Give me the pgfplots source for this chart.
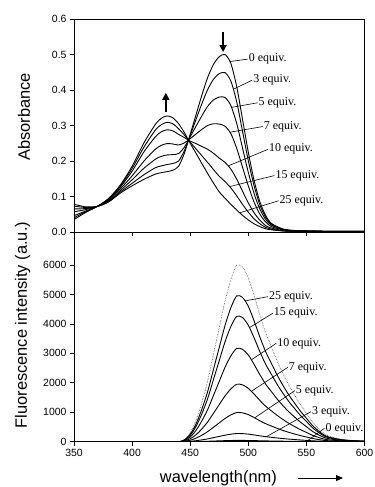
\documentclass[border=0pt]{standalone}
\usepackage{fontspec}
\setmainfont{Liberation Sans}
\newfontfamily\timesf{Liberation Serif}
\usepackage{pgfplots}
\pgfplotsset{compat=1.18}
\usepackage{pgfplotstable}
\usetikzlibrary{arrows.meta}

\pgfplotstableread{
nm e0 e3 e5 e7 e10 e15 e25
350 0.078 0.073 0.065 0.057 0.046 0.040 0.035
360 0.071 0.069 0.066 0.063 0.059 0.057 0.055
370 0.072 0.072 0.072 0.072 0.072 0.072 0.072
380 0.085 0.086 0.088 0.090 0.093 0.094 0.095
390 0.110 0.113 0.117 0.122 0.127 0.130 0.133
400 0.130 0.137 0.147 0.158 0.171 0.179 0.185
410 0.148 0.161 0.179 0.199 0.225 0.238 0.250
420 0.163 0.181 0.205 0.233 0.268 0.287 0.303
425 0.167 0.186 0.213 0.244 0.282 0.302 0.320
430 0.170 0.190 0.217 0.249 0.288 0.309 0.327
435 0.174 0.193 0.218 0.248 0.285 0.305 0.322
440 0.185 0.200 0.221 0.245 0.275 0.291 0.305
445 0.222 0.229 0.239 0.251 0.266 0.273 0.280
450 0.275 0.272 0.268 0.263 0.256 0.253 0.250
455 0.330 0.317 0.298 0.276 0.249 0.234 0.222
460 0.385 0.361 0.327 0.289 0.241 0.215 0.193
465 0.435 0.401 0.354 0.300 0.233 0.196 0.165
470 0.472 0.430 0.372 0.305 0.222 0.176 0.138
475 0.494 0.446 0.380 0.304 0.208 0.157 0.113
480 0.500 0.449 0.379 0.298 0.196 0.142 0.095
485 0.475 0.425 0.356 0.277 0.177 0.124 0.078
490 0.410 0.367 0.306 0.236 0.149 0.102 0.062
495 0.318 0.284 0.237 0.183 0.115 0.078 0.047
500 0.225 0.201 0.168 0.130 0.082 0.056 0.034
505 0.145 0.130 0.108 0.084 0.054 0.037 0.023
510 0.085 0.076 0.064 0.050 0.033 0.023 0.015
515 0.046 0.041 0.035 0.028 0.018 0.013 0.009
520 0.024 0.022 0.019 0.015 0.011 0.008 0.006
530 0.008 0.008 0.007 0.006 0.004 0.003 0.003
540 0.004 0.004 0.003 0.003 0.002 0.002 0.002
550 0.003 0.003 0.003 0.002 0.002 0.002 0.002
570 0.002 0.002 0.002 0.002 0.001 0.001 0.001
600 0.002 0.002 0.002 0.002 0.001 0.001 0.001
}\absdata

\pgfplotstableread{
nm d e25 e15 e10 e7 e5 e3 e0
350 0 0 0 0 0 0 0 0
400 0 0 0 0 0 0 0 0
430 0 0 0 0 0 0 0 0
440 0 0 0 0 0 0 0 0
445 73 60 52 38 24 12 3 1
450 303 250 215 160 99 50 14 2
455 726 600 516 384 236 120 34 5
460 1331 1100 946 704 433 220 62 10
465 2057 1700 1462 1088 670 340 95 15
470 2965 2450 2107 1568 965 490 137 22
475 3872 3200 2752 2048 1261 640 179 29
480 4780 3950 3397 2528 1556 790 221 36
485 5506 4550 3913 2912 1793 910 255 41
490 5990 4950 4257 3168 1950 990 277 45
495 5929 4900 4214 3136 1931 980 274 44
500 5566 4600 3956 2944 1812 920 258 41
505 4961 4100 3526 2624 1615 820 230 37
510 4296 3550 3053 2272 1399 710 199 32
515 3691 3050 2623 1952 1202 610 171 27
520 3207 2650 2279 1696 1044 530 148 24
525 2723 2250 1935 1440 887 450 126 20
530 2299 1900 1634 1216 749 380 106 17
535 1912 1580 1359 1011 623 316 88 14
540 1573 1300 1118 832 512 260 73 12
545 1246 1030 886 659 406 206 58 9
550 968 800 688 512 315 160 45 7
555 678 560 482 358 221 112 31 5
560 460 380 327 243 150 76 21 3
565 278 230 198 147 91 46 13 2
570 182 150 129 96 59 30 8 1
580 85 70 60 45 28 14 4 1
590 42 35 30 22 14 7 2 0
600 24 20 17 13 8 4 1 0
}\fludata

\tikzset{eqlab/.style={anchor=west, inner sep=0.8bp, font=\timesf\fontsize{12}{14}\selectfont}}
\pgfplotsset{
  cv/.style={black, no marks, line width=0.9bp, smooth, tension=0.45},
  spec/.style={
    scale only axis, width=290.5bp,
    xmin=350, xmax=600, xtick={350,400,...,600},
    tick align=outside, xtick pos=bottom, ytick pos=left,
    major tick length=4bp,
    tick style={black, line width=0.7bp},
    axis line style={line width=0.8bp},
    tick label style={font=\fontsize{10.5}{12}\selectfont},
    /pgf/number format/assume math mode=true,
    label style={font=\fontsize{16.5}{18}\selectfont},
    clip mode=individual,
  },
}

\begin{document}
\begin{tikzpicture}
\path[use as bounding box] (-74bp,-45.3bp) rectangle (301bp,441.7bp);

% Absorbance
\begin{axis}[spec, at={(0bp,209.7bp)}, anchor=south west, height=213bp,
  ymin=0, ymax=0.6, ytick={0,0.1,...,0.6},
  xticklabels={},
  yticklabel style={/pgf/number format/.cd, fixed, fixed zerofill, precision=1},
  ylabel={Absorbance},
  every axis y label/.append style={at={(axis description cs:-0.172,0.541)}, anchor=center},
]
\addplot[cv] table[x=nm,y=e0]{\absdata};
\addplot[cv] table[x=nm,y=e3]{\absdata};
\addplot[cv] table[x=nm,y=e5]{\absdata};
\addplot[cv] table[x=nm,y=e7]{\absdata};
\addplot[cv] table[x=nm,y=e10]{\absdata};
\addplot[cv] table[x=nm,y=e15]{\absdata};
\addplot[cv] table[x=nm,y=e25]{\absdata};
\draw[line width=0.6bp] (axis cs:484,0.480) -- (axis cs:499.5,0.487) node[eqlab]{0 equiv.};
\draw[line width=0.6bp] (axis cs:487,0.402) -- (axis cs:503.5,0.428) node[eqlab]{3 equiv.};
\draw[line width=0.6bp] (axis cs:485.5,0.351) -- (axis cs:508,0.364) node[eqlab]{5 equiv.};
\draw[line width=0.6bp] (axis cs:484,0.281) -- (axis cs:512.5,0.297) node[eqlab]{7 equiv.};
\draw[line width=0.6bp] (axis cs:482.6,0.186) -- (axis cs:517,0.233) node[eqlab]{10 equiv.};
\draw[line width=0.6bp] (axis cs:484,0.128) -- (axis cs:522.5,0.159) node[eqlab]{15 equiv.};
\draw[line width=0.6bp] (axis cs:492.6,0.054) -- (axis cs:526,0.088) node[eqlab]{25 equiv.};
\draw[-{Triangle[width=7bp,length=7bp]}, line width=1.6bp] (axis cs:429,0.338) -- (axis cs:429,0.392);
\draw[-{Triangle[width=7bp,length=7bp]}, line width=1.6bp] (axis cs:478.3,0.562) -- (axis cs:478.3,0.507);
\end{axis}

% Fluorescence
\begin{axis}[spec, at={(0bp,0bp)}, anchor=south west, height=209.7bp,
  ymin=0, ymax=7120, ytick={0,1000,...,6000},
  yticklabel style={/pgf/number format/1000 sep={}},
  ylabel={Fluorescence intensity (a.u.)},
  xlabel={wavelength(nm)},
  every axis y label/.append style={at={(axis description cs:-0.177,0.556)}, anchor=center},
  every axis x label/.append style={at={(axis description cs:0.497,-0.173)}, anchor=center},
]
\addplot[densely dotted, no marks, line width=0.6bp, black!75, smooth, tension=0.45] table[x=nm,y=d]{\fludata};
\addplot[cv] table[x=nm,y=e25]{\fludata};
\addplot[cv] table[x=nm,y=e15]{\fludata};
\addplot[cv] table[x=nm,y=e10]{\fludata};
\addplot[cv] table[x=nm,y=e7]{\fludata};
\addplot[cv] table[x=nm,y=e5]{\fludata};
\addplot[cv] table[x=nm,y=e3]{\fludata};
\addplot[cv] table[x=nm,y=e0]{\fludata};
\draw[line width=0.6bp] (axis cs:497,4780) -- (axis cs:517,4925) node[eqlab]{25 equiv.};
\draw[line width=0.6bp] (axis cs:501,3870) -- (axis cs:521,4360) node[eqlab]{15 equiv.};
\draw[line width=0.6bp] (axis cs:502.6,2778) -- (axis cs:524,3340) node[eqlab]{10 equiv.};
\draw[line width=0.6bp] (axis cs:502.6,1710) -- (axis cs:534,2525) node[eqlab]{7 equiv.};
\draw[line width=0.6bp] (axis cs:505.5,810) -- (axis cs:540,1733) node[eqlab]{5 equiv.};
\draw[line width=0.6bp] (axis cs:515.5,168) -- (axis cs:554,1020) node[eqlab]{3 equiv.};
\draw[line width=0.6bp] (axis cs:550,7) -- (axis cs:565.6,455) node[eqlab]{0 equiv.};
\end{axis}

\draw[-{Triangle[width=6bp,length=7bp]}, line width=0.9bp] (224bp,-36.3bp) -- (269bp,-36.3bp);
\end{tikzpicture}
\end{document}
